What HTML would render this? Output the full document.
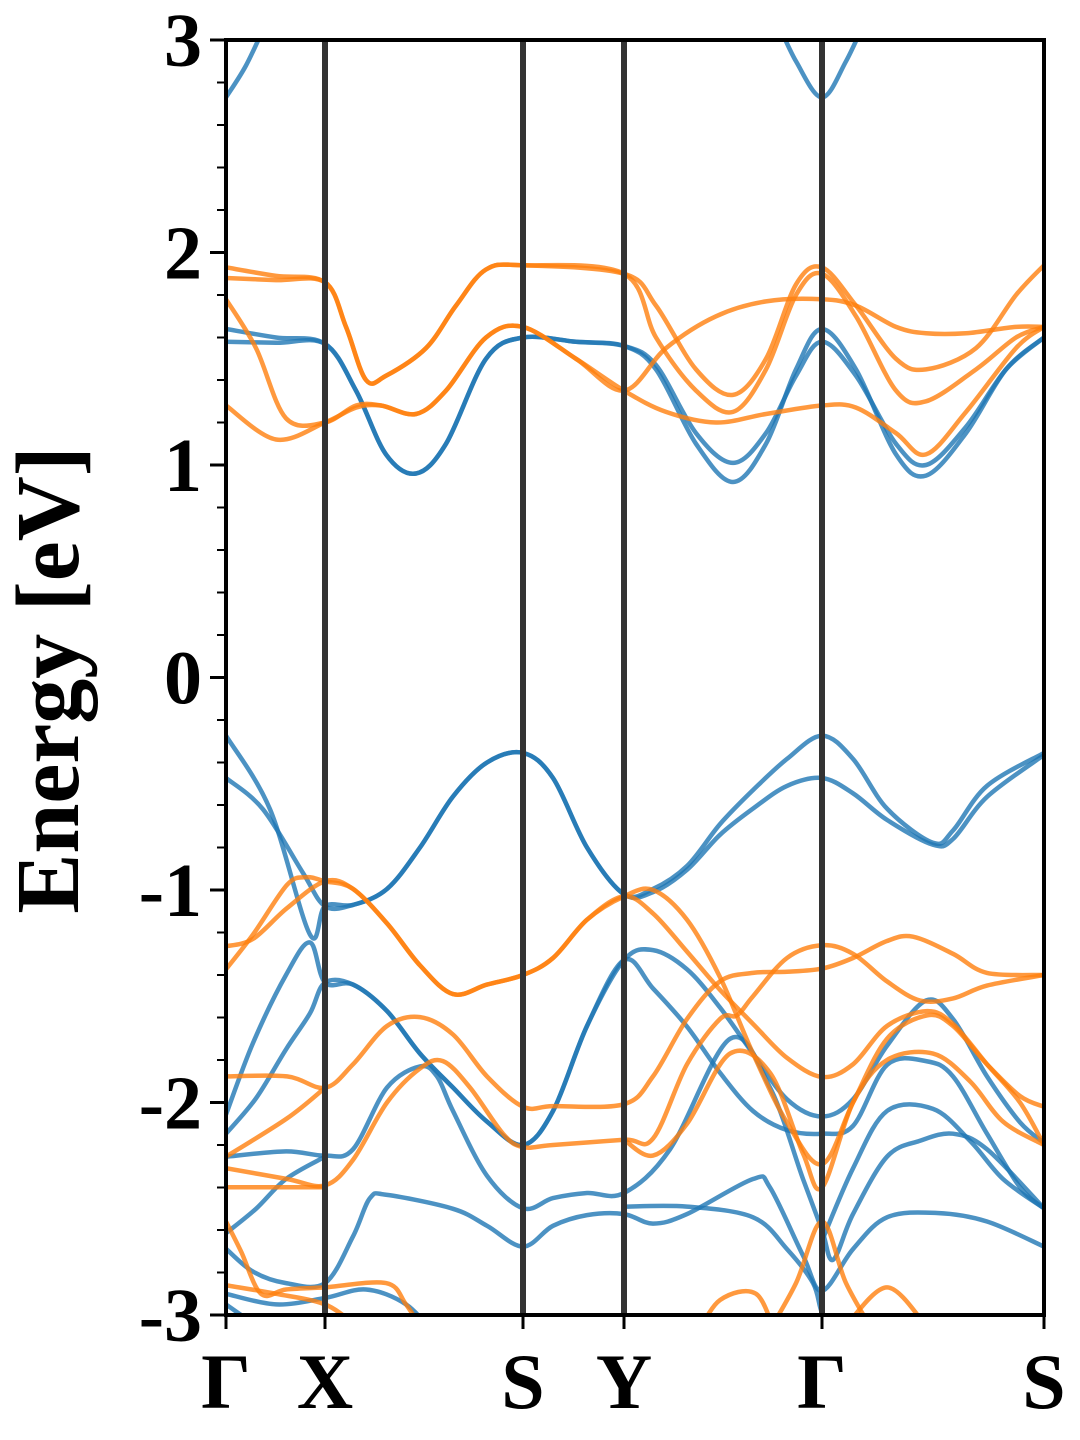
<!DOCTYPE html>
<html><head><meta charset="utf-8"><style>
html,body{margin:0;padding:0;background:#fff;}
svg{display:block;}
text{font-family:"Liberation Serif",serif;font-weight:bold;fill:#000;}
</style></head><body>
<svg id="chart" width="1080" height="1440" viewBox="0 0 1080 1440" xmlns="http://www.w3.org/2000/svg">
<defs><clipPath id="plotclip"><rect x="226" y="40" width="818" height="1275"/></clipPath></defs>
<g id="bands" clip-path="url(#plotclip)"></g>
<g id="vlines"></g>
<rect x="226" y="40" width="818" height="1275" fill="none" stroke="#000" stroke-width="4"/>
<g id="axes"></g>
<text x="78" y="680" font-size="90" text-anchor="middle" transform="rotate(-90 78 680)">Energy [eV]</text>
</svg>
<script>
const kTicks=[0,0.99,2.97,3.98,5.96,8.18];
const kLabels=["Γ","X","S","Y","Γ","S"];
const yTicks=[3,2,1,0,-1,-2,-3];
const yTickLabels=["3","2","1","0","-1","-2","-3"];
const blueBands=[
[[0,2.73],[0.2,2.88],[0.4,3.08]],
[[5.5,3.1],[5.7,2.9],[5.96,2.73],[6.2,2.9],[6.4,3.1]],
[[0,1.64],[0.5,1.60],[0.99,1.57],[1.3,1.35],[1.6,1.05],[1.9,0.96],[2.2,1.1],[2.6,1.5],[2.97,1.60],[3.5,1.58],[3.98,1.56],[4.3,1.45],[4.7,1.1],[5.07,0.92],[5.4,1.1],[5.7,1.45],[5.96,1.64],[6.3,1.45],[6.7,1.05],[7.0,0.95],[7.4,1.15],[7.8,1.45],[8.18,1.60]],
[[0,1.58],[0.5,1.575],[0.99,1.57],[1.3,1.35],[1.6,1.05],[1.9,0.96],[2.2,1.1],[2.6,1.5],[2.97,1.60],[3.5,1.58],[3.98,1.56],[4.3,1.47],[4.7,1.15],[5.07,1.01],[5.4,1.15],[5.7,1.42],[5.96,1.58],[6.3,1.42],[6.7,1.1],[7.0,1.0],[7.4,1.18],[7.8,1.45],[8.18,1.60]],
[[0,-0.274],[0.44,-0.62],[0.84,-1.21],[0.99,-1.076],[1.27,-1.07],[1.61,-0.995],[1.94,-0.80],[2.27,-0.56],[2.61,-0.40],[2.97,-0.355],[3.27,-0.473],[3.61,-0.80],[3.98,-1.02],[4.27,-0.995],[4.61,-0.887],[4.94,-0.69],[5.27,-0.53],[5.61,-0.383],[5.96,-0.274],[6.27,-0.383],[6.61,-0.617],[7.07,-0.778],[7.27,-0.72],[7.61,-0.51],[8.18,-0.355]],
[[0,-0.473],[0.37,-0.62],[0.77,-0.92],[0.99,-1.076],[1.27,-1.07],[1.61,-0.995],[1.94,-0.80],[2.27,-0.56],[2.61,-0.40],[2.97,-0.355],[3.27,-0.473],[3.61,-0.80],[3.98,-1.02],[4.27,-1.01],[4.61,-0.905],[4.94,-0.74],[5.27,-0.617],[5.61,-0.51],[5.96,-0.473],[6.27,-0.545],[6.61,-0.67],[7.07,-0.787],[7.27,-0.76],[7.61,-0.562],[8.18,-0.364]],
[[0,-2.057],[0.27,-1.72],[0.6,-1.40],[0.84,-1.247],[0.99,-1.436],[1.27,-1.445],[1.61,-1.57],[1.94,-1.77],[2.27,-1.93],[2.61,-2.09],[2.97,-2.20],[3.27,-2.04],[3.61,-1.64],[3.98,-1.33],[4.27,-1.283],[4.61,-1.373],[4.94,-1.553],[5.27,-1.77],[5.61,-1.985],[5.96,-2.066],[6.27,-1.985],[6.61,-1.733],[7.0,-1.52],[7.27,-1.607],[7.61,-1.877],[7.94,-2.093],[8.18,-2.19]],
[[0,-2.147],[0.3,-1.98],[0.6,-1.75],[0.84,-1.58],[0.99,-1.436],[1.27,-1.445],[1.61,-1.57],[1.94,-1.77],[2.27,-1.93],[2.61,-2.09],[2.97,-2.20],[3.27,-2.04],[3.61,-1.64],[3.98,-1.33],[4.27,-1.463],[4.61,-1.643],[4.94,-1.86],[5.27,-2.04],[5.61,-2.13],[5.96,-2.147],[6.27,-2.11],[6.61,-1.823],[7.0,-1.805],[7.27,-1.877],[7.61,-2.147],[7.94,-2.399],[8.18,-2.498]],
[[0,-2.255],[0.6,-2.23],[0.99,-2.25],[1.27,-2.22],[1.61,-1.93],[1.94,-1.83],[2.11,-1.877],[2.27,-2.04],[2.61,-2.345],[2.97,-2.498],[3.27,-2.45],[3.61,-2.426],[3.98,-2.426],[4.44,-2.22],[5.04,-1.70],[5.44,-1.93],[5.77,-2.36],[5.96,-2.60],[6.07,-2.74],[6.27,-2.525],[6.61,-2.255],[6.94,-2.18],[7.27,-2.147],[7.61,-2.22],[8.18,-2.498]],
[[0,-2.615],[0.3,-2.5],[0.6,-2.36],[0.99,-2.255]],
[[0,-2.688],[0.27,-2.796],[0.6,-2.85],[0.99,-2.85],[1.27,-2.63],[1.44,-2.45],[1.61,-2.435],[2.27,-2.5],[2.61,-2.58],[2.97,-2.678],[3.27,-2.58],[3.61,-2.53],[3.98,-2.525],[4.27,-2.57],[4.61,-2.525],[5.27,-2.36],[5.44,-2.40],[5.77,-2.72],[5.96,-2.886],[6.27,-2.69],[6.61,-2.54],[7.11,-2.52],[7.61,-2.56],[8.18,-2.678]],
[[3.98,-2.49],[4.61,-2.49],[5.27,-2.54],[5.61,-2.69],[5.87,-2.85],[5.96,-2.99],[6.1,-3.1]],
[[5.96,-2.65],[6.27,-2.31],[6.61,-2.04],[7.07,-2.03],[7.44,-2.18],[7.77,-2.36],[8.18,-2.498]],
[[0,-2.9],[0.5,-2.95],[0.99,-2.92],[1.4,-2.88],[1.8,-2.95],[2.1,-3.1]],
[[0,-2.95],[0.3,-3.05]]
];
const orangeBands=[
[[0,1.93],[0.5,1.89],[0.99,1.86],[1.2,1.65],[1.4,1.40],[1.6,1.42],[2.0,1.55],[2.3,1.75],[2.6,1.92],[2.97,1.94],[3.98,1.90],[4.3,1.75],[4.7,1.45],[5.07,1.33],[5.4,1.50],[5.7,1.85],[5.96,1.93],[6.3,1.75],[6.7,1.50],[7.0,1.45],[7.5,1.55],[7.9,1.80],[8.18,1.94]],
[[0,1.88],[0.5,1.87],[0.99,1.86],[1.2,1.65],[1.4,1.40],[1.6,1.42],[2.0,1.55],[2.3,1.75],[2.6,1.92],[2.97,1.94],[3.98,1.90],[4.3,1.6],[4.7,1.35],[5.07,1.25],[5.4,1.45],[5.7,1.8],[5.96,1.90],[6.3,1.70],[6.7,1.35],[7.0,1.30],[7.5,1.45],[7.9,1.6],[8.18,1.65]],
[[0,1.78],[0.3,1.55],[0.6,1.22],[0.99,1.2],[1.3,1.28],[1.55,1.28],[1.9,1.24],[2.2,1.35],[2.6,1.60],[2.97,1.65],[3.5,1.50],[3.98,1.35],[4.4,1.55],[4.9,1.70],[5.4,1.77],[5.96,1.78],[6.3,1.75],[6.7,1.65],[7.0,1.62],[7.4,1.62],[7.9,1.65],[8.18,1.65]],
[[0,1.28],[0.5,1.12],[0.99,1.2],[1.3,1.27],[1.55,1.28],[1.9,1.24],[2.2,1.35],[2.6,1.60],[2.97,1.65],[3.5,1.50],[3.98,1.35],[4.4,1.25],[4.9,1.20],[5.4,1.24],[5.96,1.28],[6.3,1.27],[6.7,1.15],[7.0,1.05],[7.4,1.25],[7.9,1.55],[8.18,1.65]],
[[0,-1.373],[0.27,-1.21],[0.61,-0.976],[0.8,-0.94],[0.99,-0.959],[1.27,-0.995],[1.61,-1.157],[1.94,-1.355],[2.27,-1.49],[2.61,-1.445],[2.97,-1.40],[3.27,-1.32],[3.61,-1.14],[3.98,-1.03],[4.27,-1.0],[4.61,-1.14],[4.94,-1.41],[5.27,-1.77],[5.61,-2.094],[5.96,-2.29],[6.27,-2.0],[6.61,-1.70],[7.01,-1.59],[7.27,-1.64],[7.61,-1.82],[7.94,-1.97],[8.18,-2.02]],
[[0,-1.265],[0.27,-1.23],[0.61,-1.085],[0.99,-0.959],[1.27,-0.995],[1.61,-1.157],[1.94,-1.355],[2.27,-1.49],[2.61,-1.445],[2.97,-1.40],[3.27,-1.32],[3.61,-1.14],[3.98,-1.03],[4.27,-1.11],[4.61,-1.29],[4.94,-1.47],[5.27,-1.63],[5.61,-1.79],[5.96,-1.88],[6.27,-1.82],[6.61,-1.64],[7.01,-1.57],[7.27,-1.63],[7.61,-1.82],[7.94,-2.0],[8.18,-2.20]],
[[0,-1.877],[0.61,-1.877],[0.99,-1.931],[1.27,-1.82],[1.61,-1.64],[1.94,-1.598],[2.27,-1.68],[2.61,-1.877],[2.97,-2.02],[3.27,-2.017],[3.98,-2.008],[4.27,-1.877],[4.61,-1.607],[4.94,-1.43],[5.27,-1.39],[5.61,-1.385],[5.96,-1.37],[6.27,-1.32],[6.61,-1.24],[6.87,-1.22],[7.27,-1.30],[7.61,-1.39],[8.18,-1.40]],
[[0,-2.255],[0.61,-2.075],[0.99,-1.931]],
[[0,-2.309],[0.61,-2.36],[0.99,-2.39],[1.27,-2.27],[1.61,-2.0],[1.94,-1.84],[2.17,-1.805],[2.44,-1.93],[2.77,-2.147],[2.97,-2.21],[3.27,-2.20],[3.98,-2.175],[4.27,-2.17],[4.61,-1.82],[4.94,-1.607],[5.11,-1.59],[5.27,-1.50],[5.61,-1.32],[5.96,-1.26],[6.27,-1.30],[6.61,-1.43],[6.94,-1.52],[7.27,-1.51],[7.61,-1.45],[8.18,-1.40]],
[[0,-2.399],[0.5,-2.399],[0.99,-2.399]],
[[3.98,-2.175],[4.27,-2.25],[4.61,-2.10],[5.04,-1.77],[5.44,-1.86],[5.77,-2.24],[5.96,-2.40],[6.27,-2.0],[6.61,-1.80],[7.07,-1.77],[7.44,-1.90],[7.77,-2.09],[8.18,-2.2]],
[[0,-2.56],[0.15,-2.7],[0.35,-2.9],[0.6,-2.88],[0.99,-2.87],[1.6,-2.85],[1.8,-2.95],[2.0,-3.1]],
[[5.4,-3.1],[5.7,-2.85],[5.96,-2.56],[6.2,-2.85],[6.5,-3.1]],
[[0,-2.86],[0.5,-2.9],[0.99,-2.95],[1.3,-3.05]],
[[4.7,-3.1],[4.94,-2.93],[5.3,-2.9],[5.5,-3.1]],
[[6.2,-3.05],[6.61,-2.87],[7.0,-3.05]]
];
const X0=226,X1=1044,Y0=40,Y1=1315,EMAX=3,EMIN=-3,KMAX=8.18;
function xs(k){return X0+(k/KMAX)*(X1-X0);}
function ys(e){return Y0+(EMAX-e)/(EMAX-EMIN)*(Y1-Y0);}
const NS="http://www.w3.org/2000/svg";
function smoothPath(pts){
  const p=pts.map(q=>[xs(q[0]),ys(q[1])]);
  let d="M"+p[0][0].toFixed(1)+","+p[0][1].toFixed(1);
  for(let i=0;i<p.length-1;i++){
    const a=p[Math.max(0,i-1)],b=p[i],c=p[i+1],e=p[Math.min(p.length-1,i+2)];
    const c1=[b[0]+(c[0]-a[0])/6,b[1]+(c[1]-a[1])/6];
    const c2=[c[0]-(e[0]-b[0])/6,c[1]-(e[1]-b[1])/6];
    d+="C"+c1[0].toFixed(1)+","+c1[1].toFixed(1)+" "+c2[0].toFixed(1)+","+c2[1].toFixed(1)+" "+c[0].toFixed(1)+","+c[1].toFixed(1);
  }
  return d;
}
const g=document.getElementById("bands");
function drawBands(list,color,name){
  list.forEach((b,i)=>{
    const el=document.createElementNS(NS,"path");
    el.setAttribute("d",smoothPath(b));
    el.setAttribute("fill","none");
    el.setAttribute("stroke",color);
    el.setAttribute("stroke-width","4.5");
    el.setAttribute("stroke-opacity","0.8");
    
    
    g.appendChild(el);
  });
}
drawBands(blueBands,"#1f77b4","blue-band");
drawBands(orangeBands,"#ff7f0e","orange-band");
const vl=document.getElementById("vlines");
kTicks.slice(1,-1).forEach((k,i)=>{
  const l=document.createElementNS(NS,"line");
  l.setAttribute("x1",xs(k));l.setAttribute("x2",xs(k));
  l.setAttribute("y1",Y0);l.setAttribute("y2",Y1);
  l.setAttribute("stroke","#333");l.setAttribute("stroke-width","6");
  
  
  vl.appendChild(l);
});
const ax=document.getElementById("axes");
function line(x1,y1,x2,y2,w,name){
  const l=document.createElementNS(NS,"line");
  l.setAttribute("x1",x1);l.setAttribute("y1",y1);l.setAttribute("x2",x2);l.setAttribute("y2",y2);
  l.setAttribute("stroke","#000");l.setAttribute("stroke-width",w);
  
  
  ax.appendChild(l);
}
for(let e=-3;e<=3.001;e+=0.2){
  const major=Math.abs(e-Math.round(e))<0.01;
  line(major?210:217,ys(e),X0,ys(e),major?3:2,major?'y-major-tick':'y-minor-tick');
}
yTicks.forEach((v,i)=>{
  const t=document.createElementNS(NS,"text");
  t.setAttribute("x",202);t.setAttribute("y",ys(v)+26);
  t.setAttribute("font-size","76");t.setAttribute("text-anchor","end");
  t.textContent=yTickLabels[i];
  
  
  ax.appendChild(t);
});
kTicks.forEach((k,i)=>{
  line(xs(k),Y1,xs(k),Y1+14,3,'x-tick');
  const t=document.createElementNS(NS,"text");
  t.setAttribute("x",xs(k));t.setAttribute("y",1408);
  t.setAttribute("font-size","78");t.setAttribute("text-anchor","middle");
  t.textContent=kLabels[i];
  
  
  ax.appendChild(t);
});
</script>
</body></html>
